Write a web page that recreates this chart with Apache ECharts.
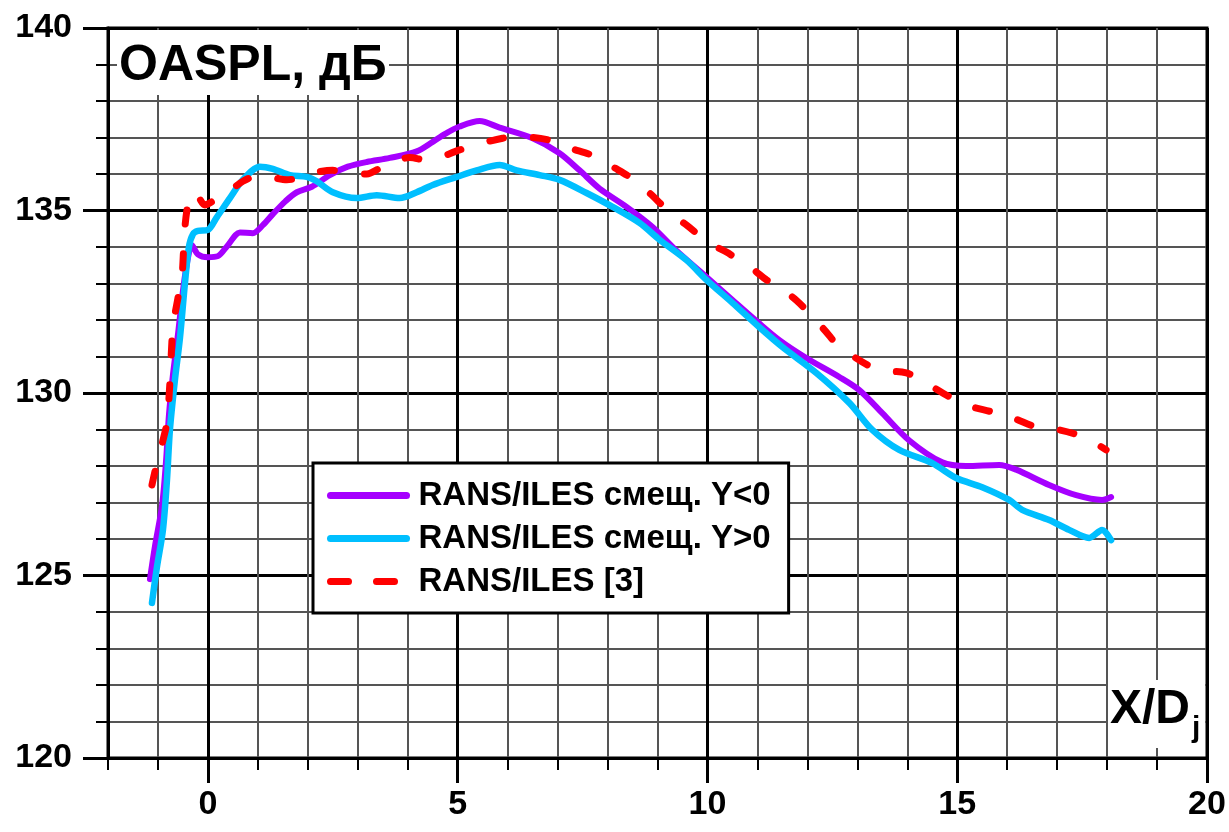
<!DOCTYPE html>
<html>
<head>
<meta charset="utf-8">
<script src="https://cdn.jsdelivr.net/npm/echarts@6/dist/echarts.min.js"></script>
<style>
  html, body { margin: 0; padding: 0; background: #fff; }
  #chart { width: 1229px; height: 832px; }
</style>
</head>
<body>
<div id="chart"></div>
<script>
// OASPL along the jet axis, X/Dj vs dB
const seriesNames = ['RANS/ILES смещ. Y<0', 'RANS/ILES смещ. Y>0', 'RANS/ILES [3]'];
const xMajorTicks = [0, 5, 10, 15, 20];

const shiftNeg = [
  [-1.16,124.9],[-1.06,125.8],[-0.92,126.9],[-0.84,128.1],[-0.78,129.4],[-0.7,130.5],
  [-0.6,131.6],[-0.5,132.8],[-0.4,133.7],[-0.32,134.05],[-0.2,133.8],[0.0,133.72],
  [0.2,133.75],[0.4,134.05],[0.64,134.4],[0.9,134.38],[1.1,134.6],[1.3,134.9],
  [1.55,135.25],[1.78,135.5],[2.08,135.65],[2.44,135.97],[2.8,136.2],[3.18,136.33],
  [3.64,136.44],[4.18,136.62],[4.5,136.88],[4.75,137.1],[5.04,137.3],[5.44,137.45],
  [5.84,137.27],[6.5,136.98],[7.04,136.57],[7.44,136.1],[7.84,135.6],[8.38,135.1],
  [8.9,134.55],[9.38,133.9],[9.98,133.18],[10.5,132.55],[11.0,131.95],[11.44,131.45],
  [11.98,130.96],[12.64,130.44],[13.04,130.08],[13.5,129.45],[14.04,128.7],[14.7,128.1],
  [15.18,128.0],[15.84,128.03],[16.18,127.9],[16.84,127.48],[17.38,127.2],[17.9,127.07],
  [18.08,127.15]
];

const shiftPos = [
  [-1.12,124.25],[-1.02,125.23],[-0.9,126.25],[-0.82,127.6],[-0.76,129.0],[-0.66,130.36],
  [-0.56,131.5],[-0.46,133.0],[-0.38,134.0],[-0.3,134.35],[-0.2,134.44],[0.0,134.47],
  [0.18,134.82],[0.44,135.34],[0.7,135.84],[1.04,136.2],[1.3,136.14],[1.64,135.97],
  [1.98,135.92],[2.18,135.8],[2.5,135.5],[2.98,135.34],[3.38,135.42],[3.84,135.34],
  [4.18,135.5],[4.5,135.7],[4.98,135.92],[5.38,136.1],[5.84,136.25],[6.18,136.1],
  [6.64,135.97],[7.04,135.84],[7.58,135.48],[8.1,135.1],[8.64,134.66],[9.04,134.2],
  [9.58,133.64],[9.98,133.1],[10.5,132.47],[11.04,131.8],[11.5,131.26],[12.18,130.55],
  [12.84,129.73],[13.3,128.99],[13.84,128.44],[14.5,128.08],[14.98,127.67],[15.5,127.42],
  [16.04,127.07],[16.3,126.8],[16.84,126.52],[17.24,126.25],[17.64,126.03],[17.9,126.25],
  [18.08,125.97]
];

const reference3 = [
  [-1.12,127.48],[-1.04,127.97],[-0.9,128.7],[-0.82,129.2],[-0.76,130.3],[-0.7,131.8],
  [-0.6,132.6],[-0.52,133.18],[-0.46,134.55],[-0.36,135.42],[-0.26,135.48],[-0.06,135.15],
  [0.15,135.3],[0.38,135.48],[0.7,135.8],[1.0,135.95],[1.24,135.92],[1.58,135.84],
  [2.18,136.05],[2.5,136.1],[2.85,136.05],[3.18,136.0],[3.5,136.2],[4.04,136.45],
  [4.38,136.38],[5.04,136.66],[5.3,136.78],[5.9,136.98],[6.24,137.02],[6.84,136.93],
  [7.18,136.74],[7.78,136.47],[8.04,136.25],[8.58,135.8],[8.84,135.48],[9.3,134.88],
  [9.58,134.6],[10.04,134.1],[10.38,133.86],[10.9,133.4],[11.18,133.1],[11.7,132.63],
  [11.98,132.27],[12.38,131.67],[12.6,131.32],[13.1,130.85],[13.44,130.63],[13.98,130.55],
  [14.34,130.3],[14.84,129.9],[15.18,129.67],[15.7,129.48],[16.1,129.32],[16.64,129.04],
  [17.04,128.99],[17.58,128.77],[17.98,128.44]
];

const FONT = "'Liberation Sans', Arial, sans-serif";
const chart = echarts.init(document.getElementById('chart'), null, { renderer: 'canvas' });

chart.setOption({
  backgroundColor: '#fff',
  animation: false,
  grid: {
    left: 108, right: 22, top: 28, bottom: 74,
    show: true, borderColor: '#000', borderWidth: 3, backgroundColor: '#fff'
  },
  xAxis: [
    {
      type: 'value', min: -2, max: 20, interval: 1,
      axisLine: { onZero: false, lineStyle: { color: '#000', width: 3 } },
      axisTick: { length: 12, lineStyle: { color: '#000', width: 2 } },
      axisLabel: { show: false },
      splitLine: { show: true, lineStyle: { color: '#555', width: 2 } }
    },
    {
      type: 'value', min: -2, max: 20, position: 'bottom',
      axisLine: { show: false },
      axisTick: { customValues: xMajorTicks, length: 25, lineStyle: { color: '#000', width: 3 } },
      axisLabel: {
        customValues: xMajorTicks, margin: 30, color: '#000',
        fontSize: 34, fontWeight: 'bold', fontFamily: FONT
      },
      splitLine: { show: true, lineStyle: { color: '#000', width: 3 } }
    }
  ],
  yAxis: {
    type: 'value', min: 120, max: 140, interval: 5,
    axisLine: { show: true, onZero: false, lineStyle: { color: '#000', width: 3 } },
    axisTick: { show: true, length: 25, lineStyle: { color: '#000', width: 3 } },
    minorTick: { show: true, splitNumber: 5, length: 12, lineStyle: { color: '#000', width: 2 } },
    axisLabel: { margin: 36, color: '#000', fontSize: 34, fontWeight: 'bold', fontFamily: FONT },
    splitLine: { show: true, lineStyle: { color: '#000', width: 3 } },
    minorSplitLine: { show: true, lineStyle: { color: '#555', width: 2 } }
  },
  legend: {
    orient: 'vertical', left: 313, top: 463,
    padding: [16, 18, 15, 14], itemGap: 10, itemWidth: 76, itemHeight: 30,
    backgroundColor: '#fff', borderColor: '#000', borderWidth: 3, borderRadius: 0,
    selectedMode: false,
    itemStyle: { opacity: 0 },
    textStyle: { color: '#000', fontSize: 33, fontWeight: 'bold', fontFamily: FONT, padding: [0, 0, 0, 7] },
    data: [
      { name: seriesNames[0], lineStyle: { width: 7, cap: 'round' } },
      { name: seriesNames[1], lineStyle: { width: 7, cap: 'round' } },
      { name: seriesNames[2], lineStyle: { type: [18, 28], width: 7, cap: 'round' } }
    ],
    z: 20
  },
  graphic: [
    { type: 'rect', z: 50, shape: { x: 117, y: 30, width: 272, height: 65 }, style: { fill: '#fff' } },
    { type: 'text', z: 51, style: { x: 119, y: 66, text: 'OASPL, дБ', fill: '#000',
        font: 'bold 50px ' + FONT, verticalAlign: 'middle', align: 'left' } },
    { type: 'rect', z: 50, shape: { x: 1108, y: 680, width: 97, height: 68 }, style: { fill: '#fff' } },
    { type: 'text', z: 51, style: { x: 1110, y: 710, text: 'X/D', fill: '#000',
        font: 'bold 48px ' + FONT, verticalAlign: 'middle', align: 'left' } },
    { type: 'text', z: 51, style: { x: 1192, y: 729, text: 'j', fill: '#000',
        font: 'bold 30px ' + FONT, verticalAlign: 'middle', align: 'left' } }
  ],
  series: [
    {
      name: seriesNames[0], type: 'line', data: shiftNeg, symbol: 'none', smooth: 0.3,
      lineStyle: { color: '#A600FF', width: 6, cap: 'round', join: 'round' },
      itemStyle: { color: '#A600FF' }, z: 3
    },
    {
      name: seriesNames[1], type: 'line', data: shiftPos, symbol: 'none', smooth: 0.3,
      lineStyle: { color: '#00BFFF', width: 6.5, cap: 'round', join: 'round' },
      itemStyle: { color: '#00BFFF' }, z: 4
    },
    {
      name: seriesNames[2], type: 'line', data: reference3, symbol: 'none', smooth: 0.3,
      lineStyle: { color: '#FF0000', width: 7, type: [14, 30], cap: 'round', join: 'round' },
      itemStyle: { color: '#FF0000' }, z: 5
    }
  ]
});
</script>
</body>
</html>
